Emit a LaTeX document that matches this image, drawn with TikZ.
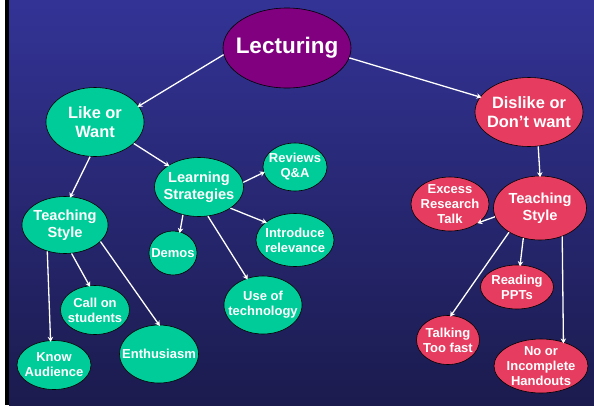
\documentclass[tikz,border=0pt]{standalone}
\usepackage{fontspec}
\setmainfont{Liberation Sans}
\usetikzlibrary{shapes.geometric,arrows.meta}
\definecolor{bgtop}{RGB}{51,51,150}
\definecolor{bgbot}{RGB}{27,27,78}
\definecolor{lectpurple}{RGB}{128,0,128}
\definecolor{likegreen}{RGB}{0,204,153}
\definecolor{dislikered}{RGB}{230,60,95}
\tikzset{
  bubble/.style={ellipse, draw=black, line width=0.6pt, text=white,
    inner sep=-40pt, align=center, font=\bfseries\fontsize{13}{15}\selectfont},
  likebubble/.style={bubble, fill=likegreen},
  dislikebubble/.style={bubble, fill=dislikered},
  mid/.style={font=\bfseries\fontsize{14.6}{17}\selectfont},
  big/.style={font=\bfseries\fontsize{16.4}{18.5}\selectfont},
  sized/.style 2 args={minimum width=#1pt, minimum height=#2pt}
}
\begin{document}
\begin{tikzpicture}[x=1pt,y=-1pt]
      \useasboundingbox (0,0) rectangle (594,405);
      \fill[white] (0,0) rectangle (594,405);
      \fill[black] (5,0) rectangle (9,405);
      \shade[top color=bgtop, bottom color=bgbot] (9,0) rectangle (594,405);
      % top level
      \node[bubble, fill=lectpurple, sized={128}{80},
        font=\bfseries\fontsize{22.5}{26}\selectfont] (lect) at (287,48) {Lecturing};
      \node[likebubble, big, sized={98}{69}] (like) at (95,122) {Like or\\Want};
      \node[dislikebubble, big, sized={108}{69}] (dis) at (529,112) {Dislike or\\Don’t want};
      % like or want
      \node[likebubble, mid, sized={89}{59}] (learn) at (199,187) {Learning\\Strategies};
      \node[likebubble, sized={64}{48}] (rev) at (295,167) {Reviews\\Q\&A};
      \node[likebubble, mid, sized={86}{57}] (tsl) at (65,225) {Teaching\\Style};
      \node[likebubble, sized={48}{44}] (demos) at (173,253) {Demos};
      \node[likebubble, sized={78}{53}] (intro) at (295,240) {Introduce\\relevance};
      \node[likebubble, sized={78}{58}] (tech) at (263,305) {Use of\\technology};
      \node[likebubble, sized={69}{49}] (call) at (95,310) {Call on\\students};
      \node[likebubble, sized={79}{58}] (enth) at (159,354) {Enthusiasm};
      \node[likebubble, sized={74}{49}] (know) at (54,365) {Know\\Audience};
      % dislike or don't want
      \node[dislikebubble, mid, sized={93}{64}] (tsr) at (540,208) {Teaching\\Style};
      \node[dislikebubble, sized={78}{54}] (excess) at (450,204) {Excess\\Research\\Talk};
      \node[dislikebubble, sized={73}{44}] (read) at (517,287) {Reading\\PPTs};
      \node[dislikebubble, sized={63}{49}] (talk) at (448,340) {Talking\\Too fast};
      \node[dislikebubble, sized={94}{54}] (hand) at (541,366) {No or\\Incomplete\\Handouts};
      \begin{scope}[white, line width=1.3pt, shorten >=-1.5pt,
          -{Stealth[length=5pt,width=5.5pt]}]
        \draw (lect.186) to (like.20);
        \draw (lect.-9) to (dis.163);
        \draw (like.262) to (tsl.79);
        \draw (like.-29) to (learn.145);
        \draw (learn.6) to (rev.190);
        \draw (learn.240) to (demos.72);
        \draw (learn.-34) to (intro.149);
        \draw (learn.-73) to (tech.121);
        \draw (tsl.236) to (know.98);
        \draw (tsl.-77) to (call.103);
        \draw (tsl.-25) to (enth.90);
        \draw (dis.-75) to (tsr.north);
        \draw (tsr.191) to (excess.-33);
        \draw (tsr.241) to (read.82);
        \draw (tsr.218) to (talk.83);
        \draw (tsr.-52) to (hand.47);
      \end{scope}
    \end{tikzpicture}
\end{document}
